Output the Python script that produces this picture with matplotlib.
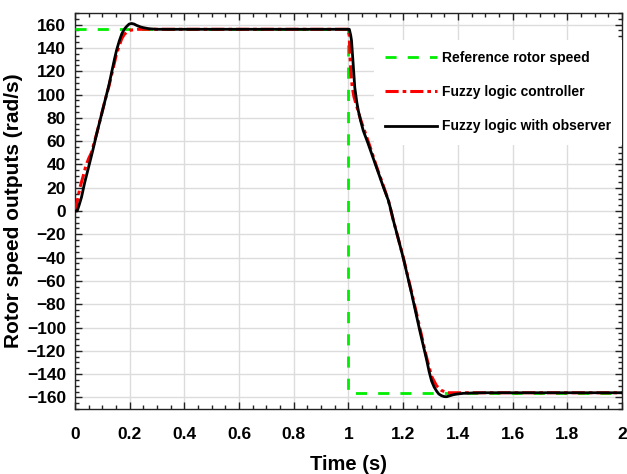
import matplotlib
matplotlib.use('Agg')
import matplotlib.pyplot as plt
from matplotlib.ticker import MultipleLocator

# reference speed profile (step up at t=0, reversal at t=1 s)
t_ref = [0.0, 1.0, 1.0, 2.0]
w_ref = [156, 156, -156, -156]

# fuzzy logic controller response
t_flc = [0.0, 0.004, 0.008, 0.018, 0.03, 0.04, 0.05, 0.06, 0.08, 0.095, 0.11,
         0.124, 0.134, 0.145, 0.152, 0.162, 0.171, 0.18, 0.189, 0.2, 0.21,
         0.23, 1.0, 1.003, 1.005, 1.01, 1.014, 1.02, 1.03, 1.045, 1.06,
         1.085, 1.1, 1.115, 1.13, 1.146, 1.164, 1.18, 1.2, 1.231, 1.25,
         1.275, 1.286, 1.304, 1.322, 1.34, 1.36, 1.4, 2.0]
w_flc = [0, 4, 8, 20, 30, 39, 45, 50, 67, 81, 95,
         107, 117, 128, 135, 142, 148, 151.5, 153.6, 155, 155.5,
         156, 156, 150, 135, 115, 106, 98, 90, 78, 68,
         51, 40, 30, 20, 9, -8, -22, -39.5, -70, -89,
         -115, -126, -142, -150, -154, -156, -156, -156]

# fuzzy logic controller with observer
t_obs = [0.0, 0.008, 0.015, 0.024, 0.035, 0.049, 0.065, 0.079, 0.095, 0.11,
         0.124, 0.134, 0.145, 0.152, 0.162, 0.171, 0.18, 0.189, 0.198, 0.207,
         0.216, 0.225, 0.24, 0.25, 0.27, 0.3, 1.0, 1.003, 1.008, 1.011,
         1.017, 1.023, 1.03, 1.036, 1.045, 1.054, 1.07, 1.085, 1.1, 1.115,
         1.13, 1.146, 1.155, 1.164, 1.18, 1.2, 1.215, 1.231, 1.245, 1.261,
         1.275, 1.286, 1.295, 1.304, 1.313, 1.322, 1.33, 1.34, 1.35, 1.359,
         1.37, 1.383, 1.4, 1.42, 1.45, 1.5, 2.0]
w_obs = [0, 0, 5, 12, 24, 37, 52, 66, 81, 95,
         108, 119, 131, 138, 146, 152, 156, 158.5, 160.5, 161,
         160.5, 159.4, 158, 157.4, 156.5, 156, 156, 156, 151, 146.5,
         126.5, 106, 94, 86, 77, 69, 59, 49, 39, 29,
         19, 9, 1, -8, -22, -40, -55, -71, -86, -103,
         -117, -128, -138, -146, -151, -154.5, -157, -158.5, -159.3, -159.4,
         -158.6, -157.7, -157, -156.5, -156.2, -156, -156]

xtick_vals = [0, 0.2, 0.4, 0.6, 0.8, 1, 1.2, 1.4, 1.6, 1.8, 2]
xtick_text = ['0', '0.2', '0.4', '0.6', '0.8', '1', '1.2', '1.4', '1.6', '1.8', '2']

plt.rcParams['font.family'] = ['Liberation Sans', 'DejaVu Sans']
plt.rcParams['font.weight'] = 'bold'

fig = plt.figure(figsize=(6.27, 4.74), dpi=100)
ax = fig.add_axes([0.1196, 0.137, 0.8724, 0.8356])

ax.plot(t_ref, w_ref, color='#00ee00', lw=2, dashes=(4, 4),
        label='Reference rotor speed', zorder=3)
ax.plot(t_flc, w_flc, color='red', lw=2.2, dashes=(4.3, 1.3, 1.2, 1.3),
        label='Fuzzy logic controller', zorder=4)
ax.plot(t_obs, w_obs, color='black', lw=2, label='Fuzzy logic with observer',
        zorder=5)

ax.set_xlim(0, 2)
ax.set_ylim(-170, 170)
ax.xaxis.set_minor_locator(MultipleLocator(0.05))
ax.yaxis.set_major_locator(MultipleLocator(20))
ax.yaxis.set_minor_locator(MultipleLocator(5))
ax.set_xticks(xtick_vals)
ax.set_xticklabels(xtick_text)

ax.tick_params(which='both', direction='in', top=True, right=True,
               labelsize=12.5, width=1, color='#222222')
ax.tick_params(which='major', length=5)
ax.tick_params(which='minor', length=3)
ax.tick_params(axis='x', pad=13)
ax.tick_params(axis='y', pad=6.5)
for s in ax.spines.values():
    s.set_color('#222222')
    s.set_linewidth(1)

ax.grid(True, which='major', color='#dcdcdc', lw=1)
ax.set_axisbelow(True)

ax.set_xlabel('Time (s)', fontsize=14.5, fontweight='bold', labelpad=9)
ax.set_ylabel('Rotor speed outputs (rad/s)', fontsize=15, fontweight='bold',
              labelpad=3)

leg = ax.legend(loc='upper right', bbox_to_anchor=(1.0, 0.933), fontsize=10,
                frameon=True, fancybox=False, framealpha=1, edgecolor='none',
                handlelength=3.75, handletextpad=0.35, labelspacing=1.47,
                borderpad=0.8, borderaxespad=0)
leg.set_zorder(6)

fig.savefig('out.png', dpi=100)
